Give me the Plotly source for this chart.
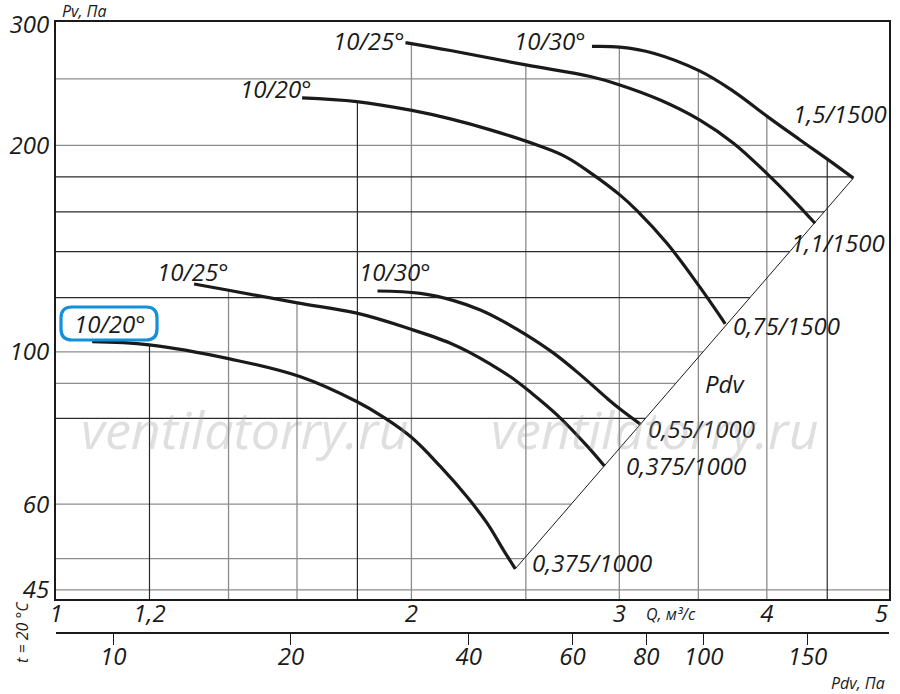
import numpy as np
import plotly.graph_objects as go

# --- fan curves: Q (m3/s) vs Pv (Pa) ---
q_a = [1.073, 1.199, 1.403, 1.611, 1.799, 1.895, 2.000, 2.116, 2.229, 2.318, 2.394, 2.449]
p_a = [103.5, 102.4, 97.7, 92.0, 84.6, 80.3, 75.1, 68.1, 61.5, 56.3, 51.4, 48.3]
q_b = [1.309, 1.404, 1.601, 1.798, 2.002, 2.158, 2.244, 2.333, 2.426, 2.522, 2.658, 2.818, 2.914]
p_b = [125.6, 122.9, 117.9, 113.9, 107.8, 103.0, 99.7, 96.0, 92.0, 87.4, 80.9, 72.9, 68.2]
q_c = [1.872, 2.035, 2.172, 2.288, 2.394, 2.502, 2.639, 2.781, 2.929, 3.006, 3.125]
p_c = [122.7, 121.7, 118.8, 115.1, 110.7, 105.9, 99.6, 92.6, 85.6, 82.5, 78.5]
q_d = [1.616, 1.798, 2.002, 2.158, 2.333, 2.572, 2.700, 2.844, 3.003, 3.105,
       3.292, 3.508, 3.605, 3.688]
p_d = [234.6, 231.7, 224.9, 218.6, 210.7, 199.4, 192.6, 181.8, 169.4, 160.7,
       144.0, 124.5, 116.4, 109.9]
q_e = [1.977, 2.158, 2.500, 2.835, 3.003, 3.249, 3.508, 3.748, 4.005, 4.212, 4.394]
p_e = [282.4, 275.0, 262.0, 252.0, 245.0, 232.9, 217.9, 201.5, 181.6, 166.5, 154.0]
q_f = [2.844, 3.003, 3.207, 3.508, 3.748, 4.005, 4.268, 4.510, 4.735]
p_f = [278.8, 278.1, 272.5, 256.8, 239.8, 220.3, 203.7, 190.5, 179.2]

start_labels = ["10/20°", "10/25°", "10/30°", "10/20°", "10/25°", "10/30°"]
end_labels = ["0,375/1000", "0,375/1000", "0,55/1000", "0,75/1500", "1,1/1500", "1,5/1500"]

# axis ticks
q_ticks = [1, 1.2, 2, 3, 4, 5]
q_ticktext = ["1", "1,2", "2", "3", "4", "5"]
pv_ticks = [45, 60, 100, 200, 300]
pdv_ticks = [10, 20, 40, 60, 80, 100, 150]
pdv_k = 8.0  # Pdv = k * Q^2

# grid levels
grid_p_dark = [180, 160, 140, 120, 80]
grid_p_light = [250, 200, 100, 90, 60, 50]
grid_p_bottom = 45
grid_q_dark = [1.2, 1.8, 4.5]
grid_q_light = [1.4, 1.6, 2, 2.5, 3, 3.5, 4]

Q_RANGE = [0.0, np.log10(5.076)]
P_RANGE = [np.log10(43.65), np.log10(302.6)]

curves = [(q_a, p_a), (q_b, p_b), (q_c, p_c), (q_d, p_d), (q_e, p_e), (q_f, p_f)]

FONT = "Open Sans"
INK = "#1a1a1a"

# plot area in pixels (for label placement)
L, R, T, B = 56, 889, 22, 633


def to_paper(px, py):
    return (px - L) / (R - L), (B - py) / (B - T)


def lg(v):
    return np.log10(np.asarray(v, dtype=float))


def curve_at(q, qs, ps):
    return 10 ** np.interp(np.log10(q), lg(qs), lg(ps))


# Pdv line joins the ends of the outer curves
diag_q = [q_a[-1], q_f[-1]]
diag_p = [p_a[-1], p_f[-1]]


def right_edge(p):
    if p >= p_f[-1]:
        return 10 ** np.interp(np.log10(p), lg(p_f[::-1]), lg(q_f[::-1]))
    return 10 ** np.interp(np.log10(p), lg(diag_p), lg(diag_q))


def top_edge(q):
    vals = [curve_at(q, qs, ps) for qs, ps in curves if qs[0] <= q <= qs[-1]]
    return max(vals)


def grid_segments(p_levels, q_levels):
    xs, ys = [], []
    for p in p_levels:
        xs += [10 ** Q_RANGE[0], right_edge(p), None]
        ys += [p, p, None]
    for q in q_levels:
        xs += [q, q, None]
        ys += [10 ** P_RANGE[0], top_edge(q), None]
    return xs, ys


fig = go.Figure()

gx, gy = grid_segments(grid_p_light, grid_q_light)
gx += [10 ** Q_RANGE[0], 10 ** Q_RANGE[1]]
gy += [grid_p_bottom, grid_p_bottom]
fig.add_trace(go.Scatter(x=gx, y=gy, mode="lines", line=dict(color="#8c8c8c", width=1.3),
                         hoverinfo="skip", connectgaps=False))
gx, gy = grid_segments(grid_p_dark, grid_q_dark)
fig.add_trace(go.Scatter(x=gx, y=gy, mode="lines", line=dict(color="#2a2a2a", width=1.2),
                         hoverinfo="skip", connectgaps=False))

fig.add_trace(go.Scatter(x=diag_q, y=diag_p, mode="lines", line=dict(color=INK, width=1),
                         hoverinfo="skip"))

for qs, ps in curves:
    fig.add_trace(go.Scatter(x=qs, y=ps, mode="lines",
                             line=dict(color=INK, width=3.2, shape="spline", smoothing=1.1)))

# invisible carrier so the Pdv axis is drawn
fig.add_trace(go.Scatter(x=pdv_ticks, y=[pv_ticks[1]] * len(pdv_ticks), xaxis="x2",
                         mode="markers", marker=dict(opacity=0), hoverinfo="skip"))

# label centres in pixels
start_pos = [(110, 324), (193, 271), (395, 271), (276, 89), (369, 41), (550, 41)]
end_pos = [(592, 562), (686, 465), (701, 428), (786, 325), (838, 242), (840, 114)]

ann = []


def label(text, px, py, size=24, color=INK, angle=0):
    xp, yp = to_paper(px, py)
    ann.append(dict(x=xp, y=yp, xref="paper", yref="paper", text=text, showarrow=False,
                    xanchor="center", yanchor="middle", textangle=angle,
                    font=dict(family=FONT, size=size, color=color, style="italic")))


for t, (px, py) in zip(start_labels, start_pos):
    label(t, px, py)
for t, (px, py) in zip(end_labels, end_pos):
    label(t, px, py)
label("Pdv", 725, 383)
label("Pv, Па", 84, 11, size=16)
label("Q, м³/с", 671, 614, size=16)
label("Pdv, Па", 858, 683, size=16)
label("t = 20 °C", 22, 632, size=16, angle=-90)
label("ventilatorry.ru", 245, 428, size=52, color="rgba(150,150,150,0.3)")
label("ventilatorry.ru", 655, 428, size=52, color="rgba(150,150,150,0.3)")


# rounded highlight box around the first label
def rounded_box(x0, y0, x1, y1, r):
    def P(px, py):
        a, b = to_paper(px, py)
        return f"{a:.5f},{b:.5f}"
    return (f"M{P(x0 + r, y0)} L{P(x1 - r, y0)} Q{P(x1, y0)} {P(x1, y0 + r)} "
            f"L{P(x1, y1 - r)} Q{P(x1, y1)} {P(x1 - r, y1)} L{P(x0 + r, y1)} "
            f"Q{P(x0, y1)} {P(x0, y1 - r)} L{P(x0, y0 + r)} Q{P(x0, y0)} {P(x0 + r, y0)} Z")


fig.add_shape(type="path", xref="paper", yref="paper", path=rounded_box(61, 307, 157, 340, 11),
              line=dict(color="#1190dc", width=3.2))

tickfont = dict(family=FONT, size=24, color=INK, style="italic")
fig.update_layout(
    width=900, height=694,
    margin=dict(l=L, r=900 - R, t=T, b=694 - B, autoexpand=False),
    paper_bgcolor="white", plot_bgcolor="white",
    showlegend=False,
    annotations=ann,
    xaxis=dict(type="log", range=Q_RANGE, domain=[0, 1], anchor="y",
               showgrid=False, zeroline=False, showline=True, mirror=True,
               linecolor=INK, linewidth=2.2, ticks="", ticklabelstandoff=-8,
               tickvals=q_ticks, ticktext=q_ticktext, tickfont=tickfont),
    yaxis=dict(type="log", range=P_RANGE, domain=[(B - 599) / (B - T), 1],
               showgrid=False, zeroline=False, showline=True, mirror=True,
               linecolor=INK, linewidth=2.2, ticks="",
               tickvals=pv_ticks, ticktext=[str(v) for v in pv_ticks], tickfont=tickfont),
    xaxis2=dict(type="log", overlaying="x", anchor="free", position=0, side="bottom",
                range=[np.log10(pdv_k) + 2 * Q_RANGE[0], np.log10(pdv_k) + 2 * Q_RANGE[1]],
                showgrid=False, zeroline=False, showline=True, linecolor=INK, linewidth=2.2,
                ticks="outside", ticklen=11, tickwidth=1.2, tickcolor=INK,
                ticklabelstandoff=-9,
                tickvals=pdv_ticks, ticktext=[str(v) for v in pdv_ticks], tickfont=tickfont),
)

fig.write_html("out.html", config={"displayModeBar": False},
               post_script="document.body.style.margin='0';")
